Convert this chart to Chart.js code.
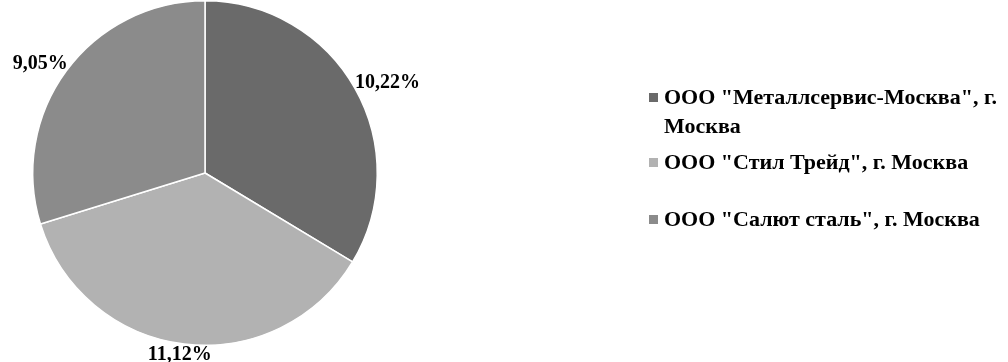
<!DOCTYPE html>
<html>
<head>
<meta charset="utf-8">
<script src="https://cdn.jsdelivr.net/npm/chart.js@4"></script>
<style>
  html, body { margin: 0; padding: 0; background: #fff; }
  #wrap { width: 1008px; height: 362px; }
</style>
</head>
<body>
<div id="wrap"><canvas id="chart" width="1008" height="362"></canvas></div>
<script>
// chart data
const companies = [
  ['ООО "Металлсервис-Москва", г.', 'Москва'],
  ['ООО "Стил Трейд", г. Москва'],
  ['ООО "Салют сталь", г. Москва']
];
const shares = [10.22, 11.12, 9.05];
const sliceColors = ['#6a6a6a', '#b2b2b2', '#8b8b8b'];

// legend layout (centre of first line of each item)
const legendX = 649;
const legendY = [98, 163, 220];

const fmt = (v) => v.toFixed(2).replace('.', ',') + '%';

const outsideLabels = {
  id: 'outsideLabels',
  afterDatasetsDraw(chart) {
    const ctx = chart.ctx;
    const meta = chart.getDatasetMeta(0);
    ctx.save();
    ctx.font = 'bold 20px "Liberation Serif"';
    ctx.fillStyle = '#000';
    ctx.textAlign = 'center';
    ctx.textBaseline = 'middle';
    meta.data.forEach((arc, i) => {
      const mid = (arc.startAngle + arc.endAngle) / 2;
      const dx = Math.cos(mid), dy = Math.sin(mid);
      const text = fmt(chart.data.datasets[0].data[i]);
      const w = ctx.measureText(text).width;
      const r = arc.outerRadius + 5;
      const x = arc.x + dx * r + dx * w / 2;
      const y = arc.y + dy * r + dy * 6;
      ctx.fillText(text, x, y);
    });
    ctx.restore();
  }
};

const sideLegend = {
  id: 'sideLegend',
  afterDraw(chart) {
    const ctx = chart.ctx;
    ctx.save();
    ctx.font = 'bold 22px "Liberation Serif"';
    ctx.textBaseline = 'middle';
    chart.data.labels.forEach((lbl, i) => {
      const y = legendY[i];
      ctx.fillStyle = sliceColors[i];
      ctx.fillRect(legendX, y - 5, 9, 9);
      ctx.fillStyle = '#000';
      lbl.forEach((line, j) => {
        ctx.fillText(line, legendX + 15, y + j * 29);
      });
    });
    ctx.restore();
  }
};

new Chart(document.getElementById('chart'), {
  type: 'pie',
  data: {
    labels: companies,
    datasets: [{
      data: shares,
      backgroundColor: sliceColors,
      borderColor: '#ffffff',
      borderWidth: 1.5
    }]
  },
  options: {
    responsive: false,
    animation: false,
    layout: { padding: { top: 0, bottom: 16, left: 32, right: 630 } },
    plugins: {
      legend: { display: false },
      tooltip: { enabled: false }
    }
  },
  plugins: [outsideLabels, sideLegend]
});
</script>
</body>
</html>
